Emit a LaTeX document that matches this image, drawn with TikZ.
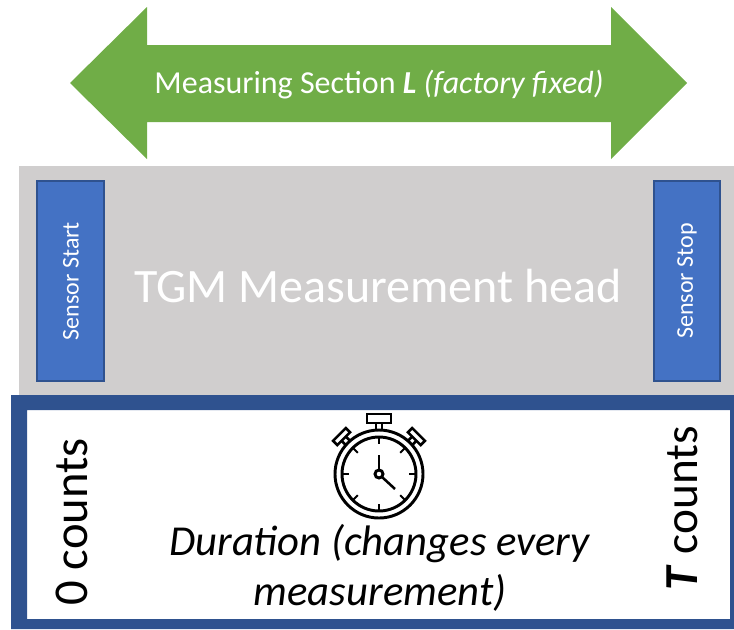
\documentclass[tikz,border=0pt]{standalone}
\usepackage{fontspec}
\setmainfont{Carlito}
\tikzset{
  pagefont/.style={font=\fontsize{#1}{#1}\selectfont},
  sensorbox/.style={draw=sensorline,line width=1.6pt,fill=sensorfill,minimum width=50pt,minimum height=150pt,inner sep=0pt},
  sensortext/.style={text=white,rotate=90,pagefont=18,inner sep=0pt},
  watch/.style={draw=black,line width=2.2pt,fill=none},
  tick/.style={draw=black,line width=1.5pt}
}
\definecolor{arrowgreen}{HTML}{70AD47}
\definecolor{headgrey}{HTML}{D0CECE}
\definecolor{sensorfill}{HTML}{4472C4}
\definecolor{sensorline}{HTML}{2F528F}
\begin{document}
\begin{tikzpicture}[x=0.75pt,y=-0.75pt]
\useasboundingbox (0,0) rectangle (734,629);
% arrow
\fill[arrowgreen] (70,83) -- (147,7) -- (147,45) -- (611,45) -- (611,7) -- (687,83) -- (611,159) -- (611,122) -- (147,122) -- (147,159) -- cycle;
\node[text=white,pagefont=24,inner sep=0pt] (arrowlabel) at (379,85) {Measuring Section \textbf{\textit{L}} \textit{(factory fixed)}};
% head
\fill[headgrey] (19,166) rectangle (734,395);
\node[text=white,pagefont=36,inner sep=0pt] (head) at (378,286) {TGM Measurement head};
\node[sensorbox] (start) at (70.5,281) {};
\node[sensortext] (startlabel) at (71,281) {Sensor Start};
\node[sensorbox] (stop) at (687,281) {};
\node[sensortext] (stoplabel) at (687,281) {Sensor Stop};
% frame
\fill[sensorline,even odd rule] (11,395) rectangle (734,629) (27,410) rectangle (730,619);
\node[text=black,rotate=90,pagefont=36.5,inner sep=0pt] (zero) at (72,522) {0 counts};
\node[text=black,rotate=90,pagefont=35.5,inner sep=0pt] (tcounts) at (682,508) {\textbf{\textit{T}} counts};
\node[text=black,pagefont=32,align=center,inner sep=0pt] (duration) at (380,568) {\textit{Duration (changes every}\\[5.5pt]\textit{measurement)}};
% stopwatch
\begin{scope}[shift={(379,474)}]
  \draw[watch] (0,0) circle (44);
  \draw[watch] (0,0) circle (37);
  \foreach \a in {0,45,...,315} {\draw[tick] (\a:37) -- (\a:30);}
  \draw[watch] (0,0) circle (4);
  \draw[watch,line width=1.9pt] (0,-4.5) -- (0,-19);
  \draw[watch,line width=1.9pt] (3,3) -- (16,15);
  \draw[watch,line width=1.9pt] (-3,-44) -- (-3,-51) (3,-44) -- (3,-51);
  \draw[watch,line width=1.9pt] (-12,-60) rectangle (12,-51);
  \foreach \s in {-45,45} {
    \begin{scope}[rotate=\s]
      \draw[watch,line width=1.9pt] (-3,-44) -- (-3,-50) (3,-44) -- (3,-50);
      \draw[watch,line width=1.9pt] (-9,-56) rectangle (9,-50);
    \end{scope}
  }
\end{scope}
\end{tikzpicture}
\end{document}
